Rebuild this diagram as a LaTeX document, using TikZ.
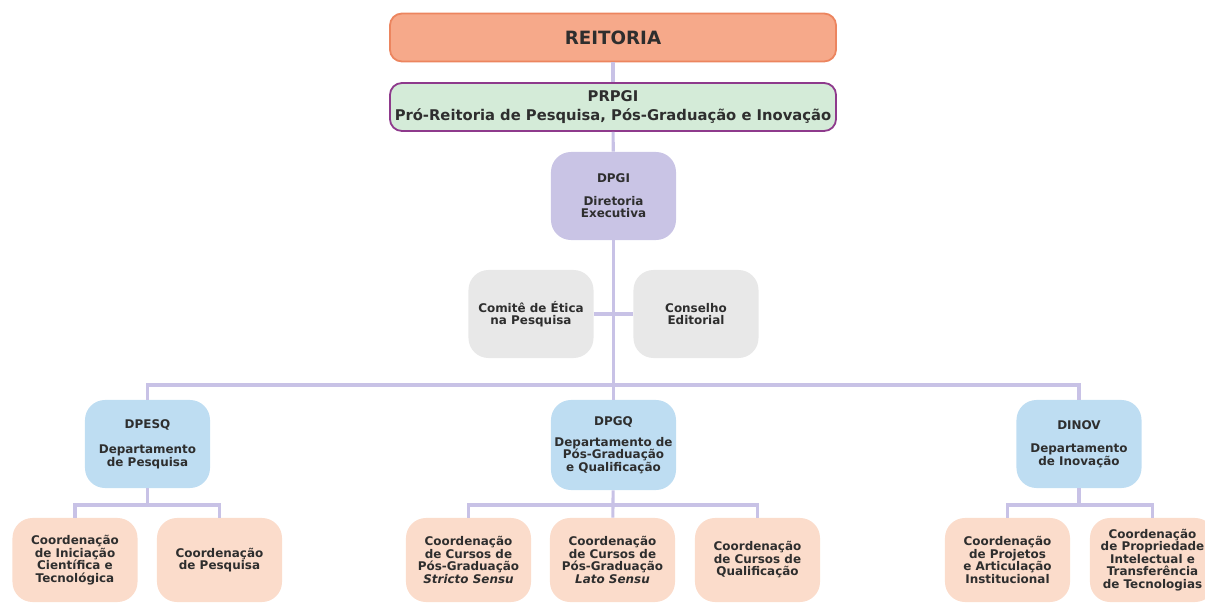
\documentclass[tikz,border=0pt]{standalone}
\usepackage{fontspec}
\setmainfont{DejaVu Sans}
\usepackage{tikz}
\usetikzlibrary{positioning,calc}

\definecolor{reitfill}{HTML}{F6A98A}
\definecolor{reitline}{HTML}{EC855F}
\definecolor{profill}{HTML}{D4EBD8}
\definecolor{proline}{HTML}{8E3A8C}
\definecolor{dirfill}{HTML}{C9C4E5}
\definecolor{grayfill}{HTML}{E8E8E8}
\definecolor{depfill}{HTML}{BEDDF2}
\definecolor{coordfill}{HTML}{FBDCCB}
\definecolor{linkcol}{HTML}{C8C2E6}
\definecolor{txt}{HTML}{2E2E2E}

\tikzset{
  box/.style={align=center, text=txt, inner sep=2pt,
    font=\bfseries\fontsize{8.5}{8.9}\selectfont},
  topbox/.style={box, minimum width=11.15cm, minimum height=1.2cm, rounded corners=0.3cm, line width=1.3pt},
  unitbox/.style={box, minimum width=3.125cm, minimum height=2.2cm, rounded corners=0.5cm},
  coordbox/.style={box, minimum width=3.125cm, minimum height=2.1cm, rounded corners=0.5cm, fill=coordfill},
  link/.style={draw=linkcol, line width=2.2pt}
}

\begin{document}
\begin{tikzpicture}[x=0.025cm, y=-0.025cm]
    \useasboundingbox (0,0) rectangle (1205,603);
    \clip (0,0) rectangle (1205,603);

    % Top
    \node[topbox, fill=reitfill, draw=reitline, font=\bfseries\fontsize{13}{15}\selectfont] (reit) at (613,37.5) {REITORIA};
    \node[topbox, fill=profill, draw=proline, minimum height=1.2cm,
      font=\bfseries\fontsize{10.5}{13.5}\selectfont] (prpgi) at (613,107)
      {PRPGI\\Pró-Reitoria de Pesquisa, Pós-Graduação e Inovação};

    % Direction and councils
    \node[unitbox, fill=dirfill] (dpgi) at (613.5,196) {DPGI\\[7pt]Diretoria\\Executiva};
    \node[unitbox, fill=grayfill] (comite) at (531,314) {Comitê de Ética\\na Pesquisa};
    \node[unitbox, fill=grayfill] (conselho) at (696,314) {Conselho\\Editorial};

    % Departments
    \node[unitbox, fill=depfill] (dpesq) at (147.5,444) {DPESQ\\[9pt]Departamento\\de Pesquisa};
    \node[unitbox, fill=depfill, minimum height=2.25cm] (dpgq) at (613.5,445) {DPGQ\\[6pt]Departamento de\\Pós-Graduação\\e Qualificação};
    \node[unitbox, fill=depfill] (dinov) at (1079,444) {DINOV\\[8pt]Departamento\\de Inovação};

    % Coordinations
    \node[coordbox] (c11) at (75,560) {Coordenação\\de Iniciação\\Científica e\\Tecnológica};
    \node[coordbox] (c12) at (219.5,560) {Coordenação\\de Pesquisa};
    \node[coordbox] (c21) at (468.5,560) {Coordenação\\de Cursos de\\Pós-Graduação\\\textit{Stricto Sensu}};
    \node[coordbox] (c22) at (612.5,560) {Coordenação\\de Cursos de\\Pós-Graduação\\\textit{Lato Sensu}};
    \node[coordbox] (c23) at (757.5,560) {Coordenação\\de Cursos de\\Qualificação};
    \node[coordbox] (c31) at (1007.5,560) {Coordenação\\de Projetos\\e Articulação\\Institucional};
    \node[coordbox] (c32) at (1152.5,560) {Coordenação\\de Propriedade\\Intelectual e\\Transferência\\de Tecnologias};

    % Connectors
    \coordinate (bus) at (613.5,385);
    \coordinate (b1) at (147.5,505);
    \coordinate (b2) at (613.5,505);
    \coordinate (b3) at (1079,505);
    \draw[link] (reit) -- (prpgi);
    \draw[link] (prpgi) -- (dpgi);
    \draw[link] (dpgi) -- (dpgq);
    \draw[link] (comite) -- (conselho);
    \draw[link] (dpesq) |- (bus) -| (dinov);
    \draw[link] (dpesq) -- (b1);
    \draw[link] (c11) |- (b1) -| (c12);
    \draw[link] (dpgq) -- (c22);
    \draw[link] (c21) |- (b2) -| (c23);
    \draw[link] (dinov) -- (b3);
    \draw[link] (c31) |- (b3) -| (c32);
\end{tikzpicture}
\end{document}
